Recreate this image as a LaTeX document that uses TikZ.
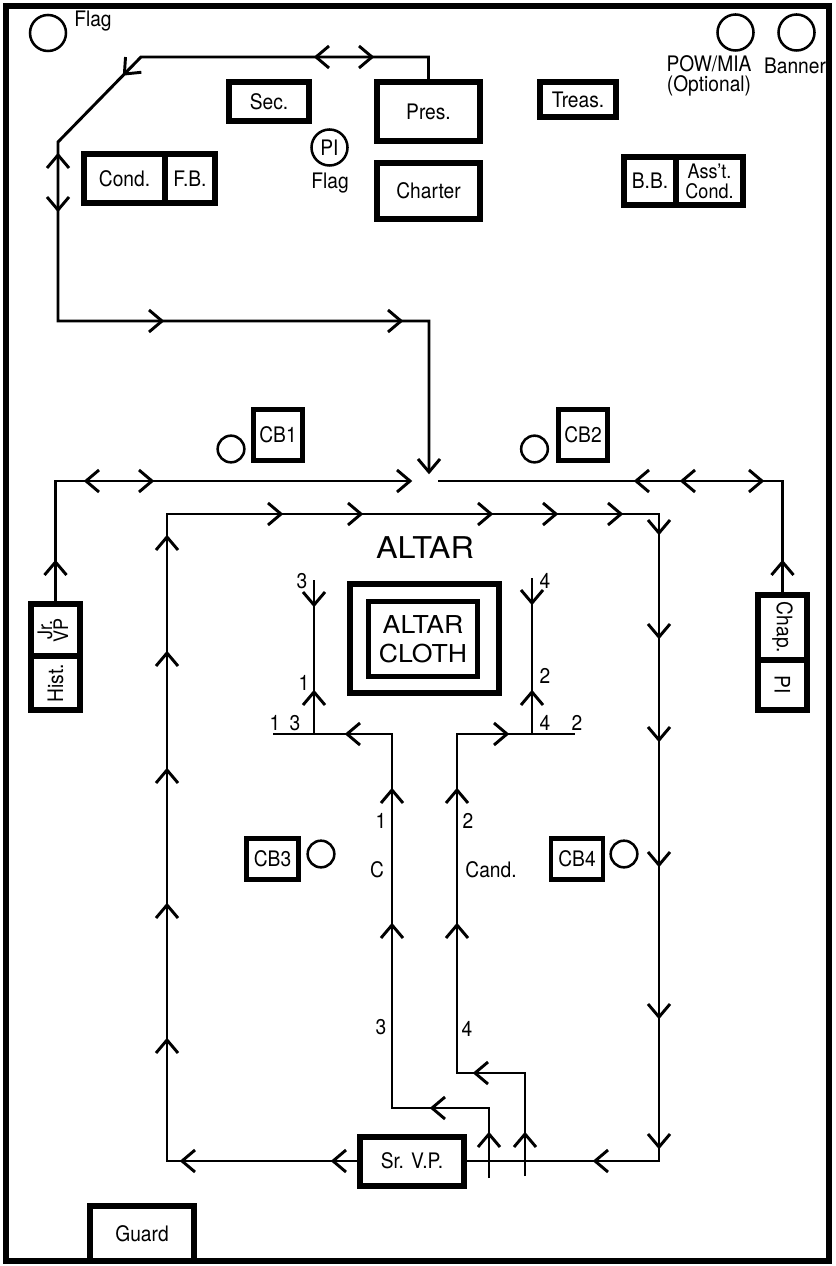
\documentclass[tikz,border=0pt]{standalone}
\usepackage{fontspec}
\setmainfont{TeX Gyre Heros}[FakeStretch=0.9]
\newfontfamily\bigfont{TeX Gyre Heros}[FakeStretch=1.08]
\usetikzlibrary{positioning}

\tikzset{chev/.pic={\draw[line width=2.2pt] (-13,-11) -- (0,0) -- (-13,11);}}

\begin{document}
\begin{tikzpicture}[x=0.75pt,y=-0.75pt,
  every node/.style={font=\fontsize{16}{17}\selectfont},
  box/.style={draw,line width=4.5pt,inner sep=0pt,outer sep=0pt,align=center},
  cbx/.style={draw,line width=3.5pt,inner sep=0pt,outer sep=0pt,minimum width=37pt,minimum height=38pt},
  seat/.style={draw,circle,line width=1.9pt,inner sep=0pt,minimum size=20pt},
  route/.style={line width=2.2pt,line join=miter},
  num/.style={inner sep=0pt}]
\useasboundingbox (0,0) rectangle (835,1266);
\draw[line width=4.5pt] (6,6) rectangle (829,1261);

% officers' stations
\node[box,minimum width=60pt,minimum height=29.25pt] (sec) at (269,101.5) {Sec.};
\node[box,minimum width=77.25pt,minimum height=44.25pt] (pres) at (428.5,111.5) {Pres.};
\node[box,minimum width=77.25pt,minimum height=42pt,below=16.5pt of pres] (charter) {Charter};
\node[box,minimum width=57pt,minimum height=26.25pt] (treas) at (578,99.5) {Treas.};
\node[box,minimum width=60.75pt,minimum height=36.75pt] (cond) at (124.5,178.5) {Cond.};
\node[box,minimum width=37.5pt,minimum height=36.75pt,right=0pt of cond] (fb) {F.B.};
\node[box,minimum width=39pt,minimum height=36pt] (bb) at (650,181) {B.B.};
\node[box,minimum width=50.25pt,minimum height=36pt,right=0pt of bb,
  font=\fontsize{15}{15}\selectfont] (asst) {Ass't.\\Cond.};
\node[box,minimum width=36.75pt,minimum height=39pt] (jrvp) at (55.5,630)
  {\rotatebox{90}{\fontsize{15}{13.5}\selectfont\begin{tabular}{@{}c@{}}Jr.\\[-3pt]VP\end{tabular}}};
\node[box,minimum width=36.75pt,minimum height=40.5pt,below=0pt of jrvp] (hist) {\rotatebox{90}{Hist.}};
\node[box,minimum width=36.75pt,minimum height=48.75pt] (chap) at (782.5,627.5) {\rotatebox{-90}{Chap.}};
\node[box,minimum width=36.75pt,minimum height=37.5pt,below=0pt of chap] (pich) {\rotatebox{-90}{PI}};
\node[box,minimum width=78pt,minimum height=36.75pt] (srvp) at (412,1161) {Sr. V.P.};
\node[box,minimum width=78pt,minimum height=41.25pt] (guard) at (142,1233.5) {Guard};

% altar
\node[box,minimum width=111.75pt,minimum height=81.75pt] (altar) at (424.5,638.5) {};
\node[box,line width=3.75pt,minimum width=81.75pt,minimum height=56.25pt,
  font=\bigfont\fontsize{18.5}{21.75}\selectfont] (cloth) at (423,639) {ALTAR\\CLOTH};
\node[font=\bigfont\fontsize{22.5}{24}\selectfont] (altart) at (425,548) {ALTAR};

% color bearers
\node[cbx] (cba) at (278,435) {CB1};
\node[cbx] (cbb) at (583,435) {CB2};
\node[cbx,minimum width=39pt,minimum height=31pt] (cbc) at (272.5,859) {CB3};
\node[cbx,minimum width=39pt,minimum height=31pt] (cbd) at (577,859) {CB4};
\node[seat] (cbas) at (231,449) {};
\node[seat] (cbbs) at (534.5,449) {};
\node[seat] (cbcs) at (321,854) {};
\node[seat] (cbds) at (624,854) {};

% flags
\node[seat,minimum size=27pt] (flagl) at (48,33) {};
\node (flaglt) at (93,21) {Flag};
\node[seat,minimum size=27pt] (pow) at (735.5,32.5) {};
\node[seat,minimum size=27pt] (ban) at (796.5,32.5) {};
\node[align=center,font=\fontsize{16}{15}\selectfont] (powt) at (709,76) {POW/MIA\\(Optional)};
\node (bant) at (795,66) {Banner};
\node[seat,minimum size=27pt] (pif) at (329.5,147.5) {PI};
\node (pift) at (330,183) {Flag};

% routes
\coordinate (hub) at (429,472);
\coordinate (hubw) at (410,481);
\coordinate (hube) at (438,481);
\draw[route] (pres.north) -- (428.5,57) -- (141,57) -- (58,142) -- (58,321) -- (429,321) -- (hub);
\draw[route] (jrvp.north) -- (55.5,481) -- (hubw);
\draw[route] (chap.north) -- (782.5,481) -- (hube);
\draw[route] (srvp.west) -- (167,1161) -- (167,514) -- (659,514) -- (659,1161) -- (srvp.east);

\coordinate (cin) at (489,1178);
\coordinate (cl) at (273,734);
\coordinate (ctop) at (314,580);
\draw[route] (cin) -- (489,1108) -- (392,1108) -- (392,734) -- (cl);
\draw[route] (314,734) -- (ctop);
\coordinate (din) at (525,1176);
\coordinate (dr) at (575,734);
\coordinate (dtop) at (532,578);
\draw[route] (din) -- (525,1073) -- (457,1073) -- (457,734) -- (dr);
\draw[route] (532,734) -- (dtop);

% arrow heads
\foreach \p in {(372,57),(162,321),(401,321),(152,481),(410,481),(762,481),
  (281,514),(361,514),(491,514),(556,514),(621,514),(507,734)}
  \pic at \p {chev};
\foreach \p in {(316,57),(86,481),(636,481),(682,481),(333,1161),(182,1161),(595,1161),
  (432,1108),(475,1073),(347,734)}
  \pic[rotate=180] at \p {chev};
\foreach \p in {(58,155),(55.5,562),(782.5,562),(167,537),(167,653),(167,770),(167,905),(167,1040),
  (489,1134),(525,1134),(392,925),(392,790),(457,925),(457,790),(314,692),(532,692)}
  \pic[rotate=90] at \p {chev};
\foreach \p in {(58,210),(429,472),(659,533),(659,637),(659,740),(659,865),(659,1017),(659,1147),
  (314,605),(532,603)}
  \pic[rotate=-90] at \p {chev};
\pic[rotate=-134] at (124.4,74) {chev};

% step numbers
\node[num] (na) at (302,581) {3};
\node[num] (nb) at (304,683) {1};
\node[num] (nc) at (275,723) {1};
\node[num] (nd) at (295,723) {3};
\node[num] (ne) at (545,581) {4};
\node[num] (nf) at (545,676) {2};
\node[num] (ng) at (545,723) {4};
\node[num] (nh) at (577,723) {2};
\node[num] (ni) at (381,821) {1};
\node[num] (nj) at (468,821) {2};
\node[num] (nk) at (381,1027) {3};
\node[num] (nl) at (467,1029) {4};
\node[num] (cand) at (377,870) {C};
\node[num] (candt) at (491,870) {Cand.};
\end{tikzpicture}
\end{document}
